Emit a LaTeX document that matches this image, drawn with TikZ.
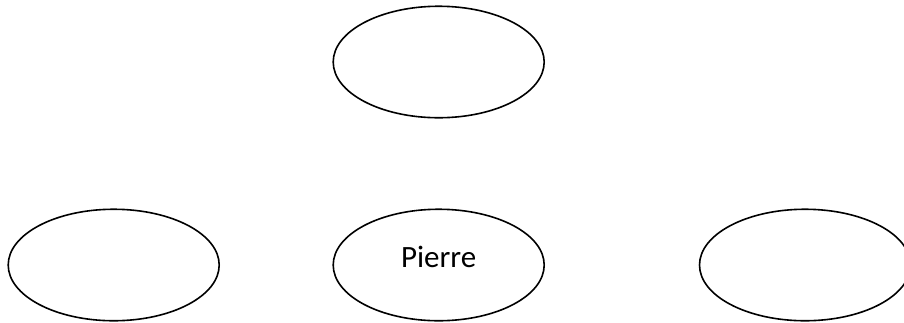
\documentclass[tikz,border=0pt]{standalone}
\usepackage{fontspec}
\setmainfont{Carlito}
\usetikzlibrary{shapes.geometric}
\tikzset{
  oval/.style={draw=black, line width=1.6pt, ellipse, minimum width=211pt, minimum height=111.5pt, inner sep=0pt, font=\fontsize{31}{36}\selectfont}
}
\begin{document}
\begin{tikzpicture}[x=1pt,y=-1pt]
\path[use as bounding box, clip] (0,0) rectangle (904,322);
\fill[white] (0,0) rectangle (904,322);
\node[oval] (top) at (438.7,62) {};
\node[oval] (left) at (113.7,265) {};
\node[oval, text depth=16.5pt] (pierre) at (438.7,265) {Pierre};
\node[oval] (right) at (805,265) {};
\end{tikzpicture}
\end{document}
